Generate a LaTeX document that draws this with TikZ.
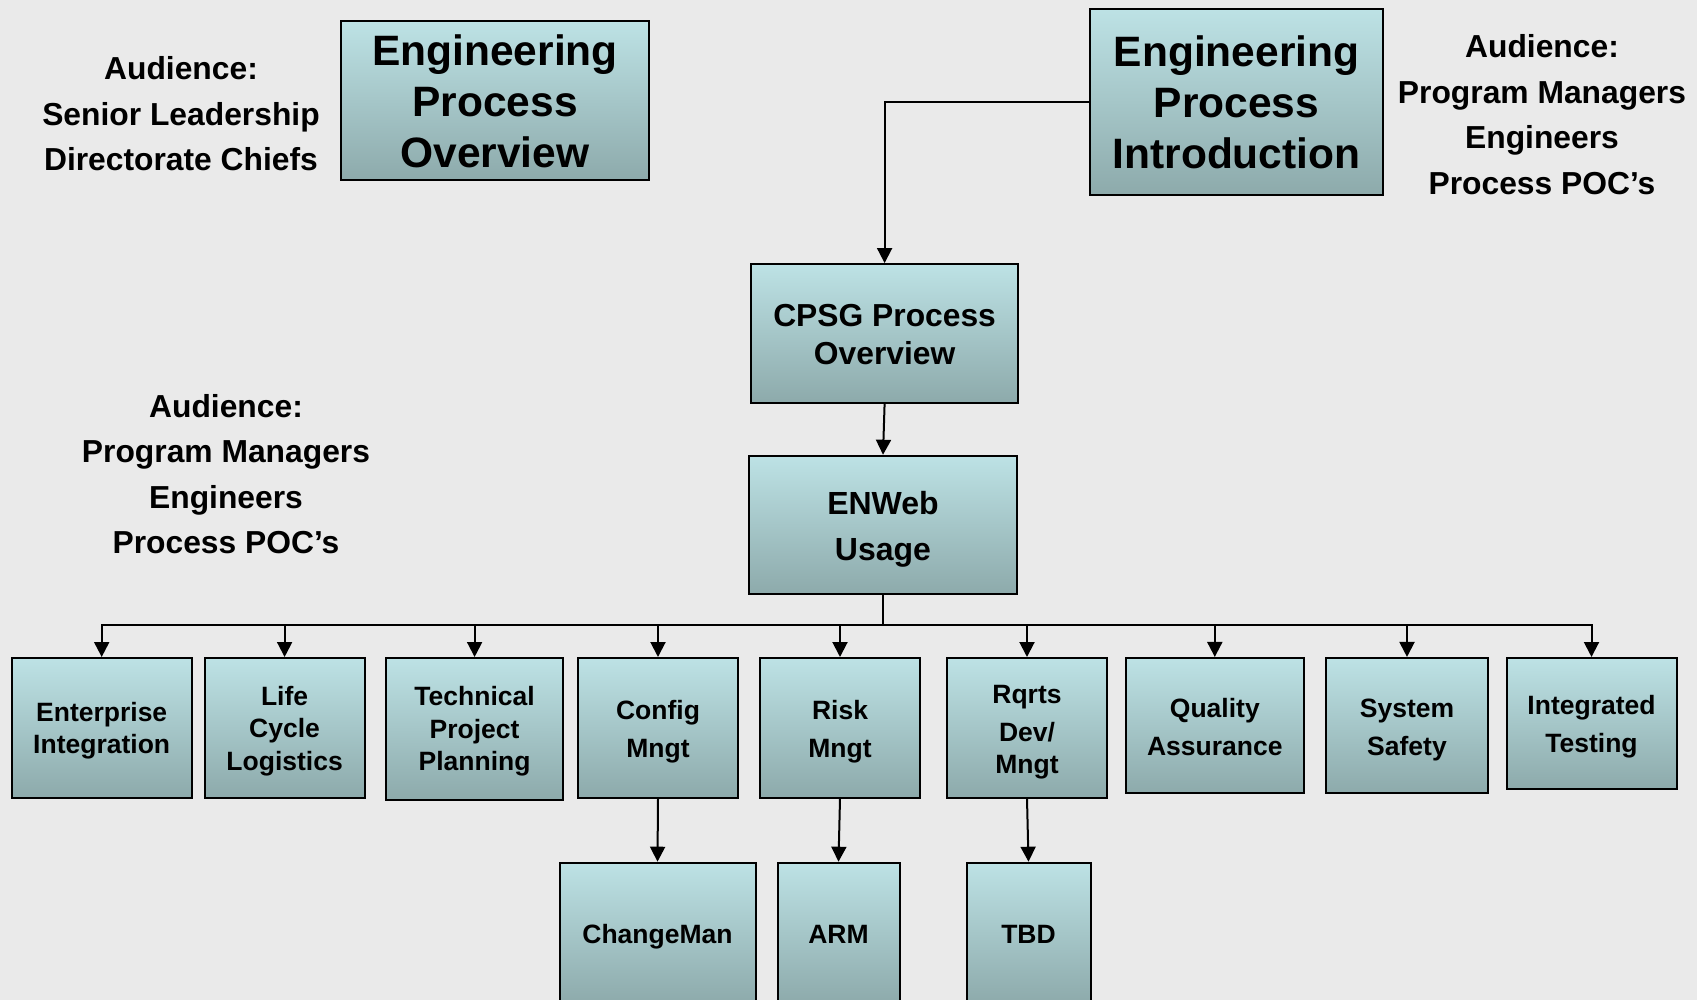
\documentclass[tikz,border=0pt]{standalone}
\usepackage{fontspec}
\setmainfont{Liberation Sans}
\usetikzlibrary{arrows.meta,calc}
\definecolor{bg}{RGB}{234,234,234}
\definecolor{btop}{RGB}{189,226,229}
\definecolor{bbot}{RGB}{141,170,171}
\newcommand\ml[2][3.3pt]{\raisebox{-#1}[\height][\depth]{\begin{tabular}{@{}c@{}}#2\end{tabular}}}
\begin{document}
\begin{tikzpicture}[x=1pt,y=-1pt,
 box/.style={draw=black, line width=2pt, top color=btop, bottom color=bbot, inner sep=0pt},
 arr/.style={line width=2pt, -{Triangle[length=15pt,width=15pt]}},
 line/.style={line width=2pt},
 aud/.style={align=center, font=\bfseries\fontsize{31.8}{45.5}\selectfont, inner sep=0pt},
 big/.style={font=\bfseries\fontsize{42.5}{51}\selectfont},
 mid/.style={font=\bfseries\fontsize{31.8}{38.7}\selectfont},
 midb/.style={font=\bfseries\fontsize{32}{45.5}\selectfont},
 sm/.style={font=\bfseries\fontsize{26.5}{32.5}\selectfont},
 smw/.style={font=\bfseries\fontsize{26.5}{38}\selectfont}]
\useasboundingbox (0,0) rectangle (1697,1000);
\fill[bg] (0,0) rectangle (1697,1000);
\clip (0,0) rectangle (1697,1000);

% top row
\node[aud] (aud1) at (181,114) {Audience:\\Senior Leadership\\Directorate Chiefs};
\node[box,big,minimum width=308pt,minimum height=159pt] (epo) at (495,101) {\ml[5.5pt]{Engineering\\Process\\Overview}};
\node[box,big,minimum width=293pt,minimum height=186pt] (epi) at (1236.5,102) {\ml[5.5pt]{Engineering\\Process\\Introduction}};
\node[aud] (aud2) at (1542,114.7) {Audience:\\Program Managers\\Engineers\\Process POC’s};
\node[aud] (aud3) at (226,474) {Audience:\\Program Managers\\Engineers\\Process POC’s};

% middle
\node[box,mid,minimum width=267pt,minimum height=138.5pt] (cpsg) at (884.6,333.3) {\ml[4.5pt]{CPSG Process\\Overview}};
\node[box,midb,minimum width=268pt,minimum height=138.5pt] (enweb) at (883,525) {\ml{ENWeb\\Usage}};

% bottom row
\node[box,sm,minimum width=179.7pt,minimum height=139.6pt] (ei) at (101.7,727.8) {\ml{Enterprise\\Integration}};
\node[box,sm,minimum width=160pt,minimum height=139.6pt] (lcl) at (284.6,727.8) {\ml[3.6pt]{Life\\Cycle\\Logistics}};
\node[box,sm,minimum width=176.4pt,minimum height=141.8pt] (tpp) at (474.6,728.9) {\ml[2.7pt]{Technical\\Project\\Planning}};
\node[box,smw,minimum width=160pt,minimum height=139.6pt] (cm) at (658,727.8) {\ml{Config\\Mngt}};
\node[box,smw,minimum width=160pt,minimum height=139.6pt] (rm) at (840,727.8) {\ml{Risk\\Mngt}};
\node[box,smw,minimum width=160pt,minimum height=139.6pt] (rq) at (1027,727.8) {\ml{Rqrts\\Dev/\\[-5.5pt]Mngt}};
\node[box,smw,minimum width=178.6pt,minimum height=135.3pt] (qa) at (1214.8,725.6) {\ml{Quality\\Assurance}};
\node[box,smw,minimum width=162.3pt,minimum height=135.3pt] (ss) at (1407,725.6) {\ml{System\\Safety}};
\node[box,smw,minimum width=170pt,minimum height=131pt] (it) at (1591.5,723.5) {\ml[2.2pt]{Integrated\\Testing}};

% third row
\node[box,sm,minimum width=196pt,minimum height=141pt] (chg) at (657.5,933.2) {\ml{ChangeMan}};
\node[box,sm,minimum width=122pt,minimum height=141pt] (arm) at (838.5,933.2) {\ml{ARM}};
\node[box,sm,minimum width=124pt,minimum height=141pt] (tbd) at (1028.5,933.2) {\ml{TBD}};

% connectors
\draw[arr] (epi.west) -| (cpsg.north);
\draw[arr] (cpsg.south) -- (enweb.north);
\coordinate (bus) at (883,624.5);
\draw[line] (enweb.south) -- (bus);
\foreach \n in {ei,lcl,tpp,cm,rm,rq,qa,ss,it} {
  \draw[arr] (bus) -| (\n.north);
}
\draw[arr] (cm.south) -- (chg.north);
\draw[arr] (rm.south) -- (arm.north);
\draw[arr] (rq.south) -- (tbd.north);
\end{tikzpicture}
\end{document}
